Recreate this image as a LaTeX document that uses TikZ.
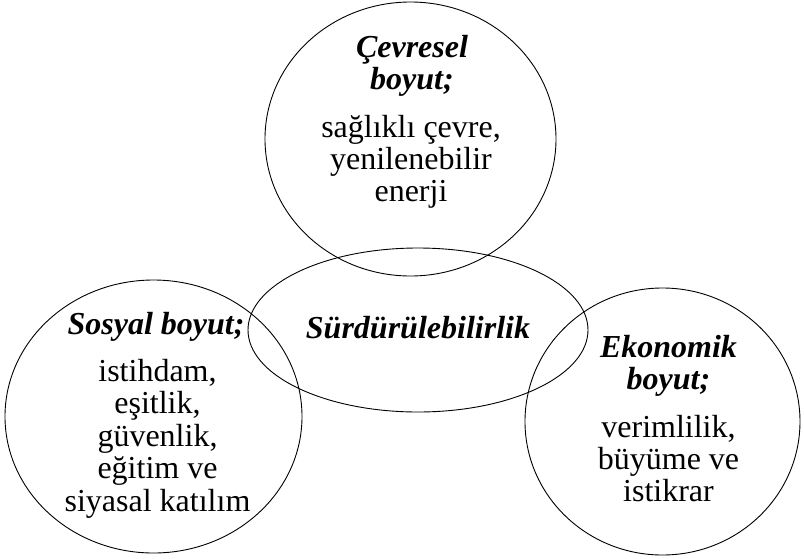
\documentclass[tikz,border=0pt]{standalone}
\usepackage{fontspec}
\setmainfont{Liberation Serif}
\begin{document}
\begin{tikzpicture}[x=1pt,y=-1pt,
  shapeline/.style={draw=black,line width=0.9pt},
  headtxt/.style={font=\fontsize{32}{33}\selectfont\bfseries\itshape,inner sep=0pt,anchor=base},
  bodytxt/.style={font=\fontsize{32}{33}\selectfont,inner sep=0pt,anchor=base}]
\useasboundingbox (0,0) rectangle (804,558);
\fill[white] (0,0) rectangle (804,558);
% shapes
\draw[shapeline] (410.5,139) ellipse [x radius=145.5, y radius=137];
\draw[shapeline] (418,330) ellipse [x radius=170, y radius=82];
\draw[shapeline] (153.5,416.5) ellipse [x radius=148.5, y radius=136.5];
\draw[shapeline] (662.5,421.5) ellipse [x radius=137.5, y radius=133.5];
% environmental
\node[headtxt] (envh1) at (412,57.5) {Çevresel};
\node[headtxt] (envh2) at (412,89.5) {boyut;};
\node[bodytxt] (envb1) at (411,137) {sağlıklı çevre,};
\node[bodytxt] (envb2) at (411,169) {yenilenebilir};
\node[bodytxt] (envb3) at (411,201) {enerji};
% social
\node[headtxt] (soch) at (156,334.5) {Sosyal boyut;};
\node[bodytxt] (socb1) at (157.5,381) {istihdam,};
\node[bodytxt] (socb2) at (157.5,413.5) {eşitlik,};
\node[bodytxt] (socb3) at (157.5,446) {güvenlik,};
\node[bodytxt] (socb4) at (157.5,478.5) {eğitim ve};
\node[bodytxt] (socb5) at (157.5,511.5) {siyasal katılım};
% centre
\node[headtxt] (sust) at (418,338.5) {Sürdürülebilirlik};
% economic
\node[headtxt] (ecoh1) at (668.5,357.5) {Ekonomik};
\node[headtxt] (ecoh2) at (668.5,389.5) {boyut;};
\node[bodytxt] (ecob1) at (668.5,437) {verimlilik,};
\node[bodytxt] (ecob2) at (668.5,469) {büyüme ve};
\node[bodytxt] (ecob3) at (668.5,501) {istikrar};
\end{tikzpicture}
\end{document}
